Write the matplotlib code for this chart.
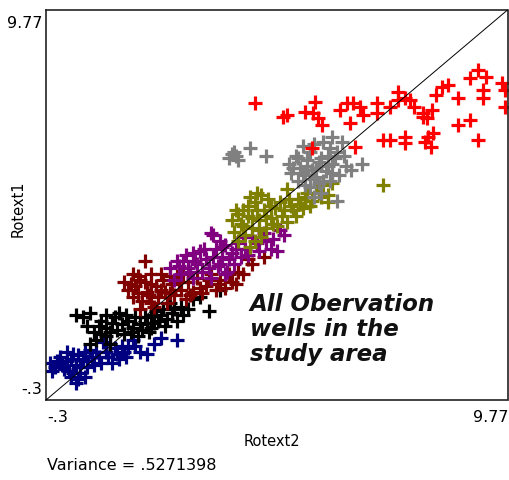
import matplotlib
matplotlib.use("Agg")
import matplotlib.pyplot as plt

lo, hi = -0.3, 9.77

navy = [(-0.22,0.65),(-0.17,0.45),(-0.1,0.55),(0.0,0.8),(0.05,0.6),(0.15,0.7),(0.2,0.45),(0.3,0.9),
        (0.35,0.6),(0.4,0.25),(0.45,0.4),(0.5,0.75),(0.6,0.55),(0.65,1.0),(0.75,0.6),(0.85,0.8),
        (0.95,1.2),(1.0,0.95),(1.1,1.15),(1.15,0.65),(1.25,0.9),(1.35,1.1),(1.45,0.8),(1.5,1.05),
        (1.6,1.25),(1.75,0.95),(1.9,0.9),(2.05,1.15),(2.55,1.25),(0.25,0.3),(0.55,0.3),(0.7,0.8),
        (0.1,0.5),(0.25,0.75),(0.4,0.85),(0.45,0.55),(0.55,0.95),(0.3,0.4),(0.8,0.95),(0.9,0.65),
        (1.05,0.8),(1.2,1.05),(1.3,0.75),(0.15,0.95),(-0.05,0.7),(0.6,0.7),(1.65,1.1),(2.2,1.3),
        (1.4,0.95),(0.35,0.15)]
black = [(0.35,1.9),(0.65,1.95),(1.0,1.9),(0.6,1.6),(0.75,1.45),(0.8,1.25),(0.65,1.15),(1.0,1.35),
         (1.15,1.7),(1.25,1.5),(1.4,1.4),(1.5,1.75),(1.6,1.55),(1.75,1.65),(1.85,1.85),(1.95,1.45),
         (2.05,1.7),(2.2,1.9),(2.3,1.6),(2.45,1.95),(2.55,1.75),(2.65,2.1),(2.8,2.05),(2.9,2.3),
         (3.05,2.35),(3.25,2.0),(3.5,2.55),(1.3,1.95),(1.0,1.55),(2.1,2.0),(1.7,1.35),(2.4,2.2),(0.9,1.75),
         (0.5,1.85),(0.85,1.6),(1.1,1.45),(1.2,1.85),(1.35,1.65),(1.45,1.9),(1.55,1.45),(1.65,1.85),
         (1.8,1.5),(1.9,1.7),(2.0,1.9),(2.15,1.75),(2.25,2.05),(2.35,1.8),(2.5,2.05),(2.7,1.9),
         (1.1,1.15),(0.9,1.4),(2.0,1.55)]
maroon = [(1.85,3.3),(1.7,2.9),(1.5,2.55),(1.4,2.75),(1.6,2.35),(1.65,2.65),(1.8,2.25),(1.85,2.75),
          (1.9,2.5),(2.0,2.95),(2.05,2.1),(2.1,2.65),(2.15,2.35),(2.25,2.8),(2.3,2.5),(2.35,2.2),
          (2.45,2.7),(2.5,2.4),(2.55,2.9),(2.65,2.55),(2.75,2.3),(2.8,2.75),(2.9,2.5),(3.0,2.85),
          (3.1,2.45),(3.2,2.65),(3.3,2.95),(3.4,2.55),(3.5,2.8),(3.6,2.6),(3.7,2.95),(3.85,2.7),
          (4.0,2.95),(4.1,3.35),(4.2,3.2),(4.45,3.4),(2.0,2.2),(1.75,2.05),
          (1.55,2.7),(1.7,2.45),(1.75,2.8),(1.95,2.4),(2.0,2.7),(2.2,2.55),(2.2,2.95),(2.4,2.45),
          (2.4,2.9),(2.6,2.75),(2.7,2.95),(2.85,2.4),(3.05,2.6),(3.25,2.8),(3.45,2.7),(3.75,2.75),
          (3.9,3.0),(1.6,2.95)]
purple = [(2.4,3.1),(2.5,2.8),(2.55,3.3),(2.65,2.95),(2.75,3.45),(2.8,3.1),(2.9,2.85),(2.95,3.3),
          (3.05,3.55),(3.1,3.0),(3.2,3.35),(3.3,2.85),(3.35,3.95),(3.4,3.6),(3.45,3.15),(3.55,3.4),
          (3.6,3.7),(3.65,3.0),(3.75,3.5),(3.8,3.2),(3.9,3.75),(3.95,3.4),(3.3,4.0),(3.55,3.65),
          (4.35,3.55),(4.5,3.8),(4.65,3.85),(4.75,3.55),(4.8,4.1),(4.9,3.95),(4.05,3.6),(4.2,3.9),
          (2.6,3.15),(2.7,3.3),(2.85,3.0),(2.9,3.5),(3.0,3.2),(3.15,3.6),(3.25,3.1),(3.35,3.4),
          (3.5,3.2),(3.5,3.8),(3.7,3.35),(3.85,3.6),(4.0,3.9),(4.1,3.45),(4.3,3.75),(4.6,3.6),
          (4.45,4.0),(3.6,2.95)]
olive = [(3.75,4.35),(3.8,4.05),(3.85,4.6),(3.9,3.8),(3.95,4.25),(4.0,4.6),(4.05,3.95),(4.1,4.45),
         (4.15,3.65),(4.2,4.15),(4.25,4.8),(4.3,5.05),(4.35,4.35),(4.4,3.9),(4.45,4.6),(4.5,4.15),
         (4.55,4.9),(4.6,4.4),(4.7,4.65),(4.75,4.2),(4.85,4.45),(4.95,5.15),(4.95,4.3),(5.05,4.7),
         (5.15,4.45),(5.2,4.9),(5.3,4.65),(5.4,5.05),(5.5,4.85),(5.6,5.2),(5.7,4.95),(5.85,5.0),
         (5.85,4.8),(5.95,5.3),(7.05,5.25),(4.4,5.0),
         (3.9,4.5),(4.0,4.2),(4.1,4.7),(4.2,4.4),(4.3,4.6),(4.35,4.1),(4.5,4.45),(4.6,4.7),
         (4.65,4.25),(4.8,4.8),(4.9,4.6),(5.0,4.9),(5.1,4.6),(5.25,4.75),(5.35,4.95),(5.45,4.7),
         (5.65,5.05),(5.75,5.25),(4.15,4.95),(4.25,3.8)]
gray = [(3.7,5.95),(3.8,6.1),(3.9,5.9),(3.85,6.0),(4.15,6.2),(4.5,6.0),
        (5.0,5.8),(5.05,5.55),(5.15,6.0),(5.2,5.35),(5.25,5.7),(5.3,6.25),(5.35,5.5),(5.4,5.9),
        (5.45,5.2),(5.5,5.65),(5.55,6.3),(5.6,5.45),(5.65,5.85),(5.7,5.05),(5.75,6.35),(5.8,5.6),
        (5.85,6.0),(5.9,5.35),(5.95,5.8),(6.05,6.1),(6.1,5.5),(6.15,6.35),(6.25,5.75),(6.6,5.8),
        (6.05,4.85),(5.55,4.95),(5.95,6.5),
        (5.1,5.7),(5.2,5.95),(5.3,5.55),(5.4,5.75),(5.45,6.1),(5.55,5.4),(5.6,5.7),(5.7,5.95),
        (5.75,5.35),(5.85,5.75),(5.9,6.2),(5.95,5.55),(6.0,5.95),(6.2,6.0),(5.35,5.25),(5.65,5.3),
        (6.35,5.65),(3.75,6.05)]
red = [(4.26,7.37),(4.88,7.01),(4.96,7.06),(5.36,7.14),(5.57,7.39),(5.53,7.11),(5.64,6.98),(5.73,6.80),
       (6.12,7.19),(6.27,7.37),(6.34,6.85),(6.40,7.37),(6.56,7.27),(6.62,7.06),(6.93,7.37),(6.93,7.11),
       (7.21,7.27),(7.37,7.45),(7.39,7.65),(7.54,7.51),(7.65,7.45),(7.72,7.27),(7.93,7.11),(8.02,6.98),
       (8.13,7.19),(8.20,7.58),(8.35,7.78),(8.48,7.83),(8.70,7.50),(8.68,6.80),(8.96,6.93),(8.96,8.01),
       (9.13,8.22),(9.29,8.04),(9.24,7.70),(9.24,7.50),(9.66,7.88),(9.72,7.70),(9.72,7.27),(7.06,6.41),
       (7.21,6.41),(7.54,6.49),(7.54,6.34),(7.98,6.36),(8.09,6.23),(8.15,6.59),(8.04,6.49),(9.13,6.41),
       (5.51,6.21),(6.45,6.23),(7.93,7.01)]

groups = [(navy, "#000080"), (black, "#000000"), (maroon, "#800000"), (purple, "#800080"),
          (olive, "#808000"), (gray, "#808080"), (red, "#ff0000")]

W, H = 509, 480
fig = plt.figure(figsize=(W/100, H/100), dpi=100)
ax = fig.add_axes([46/W, 1-400/H, 461.5/W, 390/H])
for pts, c in groups:
    xs = [p[0] for p in pts]
    ys = [p[1] for p in pts]
    ax.plot(xs, ys, linestyle="none", marker="+", color=c, ms=9.5, mew=2.3)
ax.plot([lo, hi], [lo, hi], color="black", lw=0.7, zorder=5)
ax.set_xlim(lo, hi)
ax.set_ylim(lo, hi)
ax.set_xticks([])
ax.set_yticks([])
for s in ax.spines.values():
    s.set_linewidth(1.2)
    s.set_color("#222222")

def fp(x, y):
    return (x / W, 1 - y / H)

fs = 11.5
fig.text(*fp(43, 23), "9.77", ha="right", va="center", fontsize=fs)
fig.text(*fp(42, 390), "-.3", ha="right", va="center", fontsize=fs)
fig.text(*fp(47, 417), "-.3", ha="left", va="center", fontsize=fs)
fig.text(*fp(508, 417), "9.77", ha="right", va="center", fontsize=fs)
fig.text(*fp(272, 442), "Rotext2", ha="center", va="center", fontsize=10.5)
fig.text(*fp(18, 209), "Rotext1", ha="center", va="center", fontsize=10.5, rotation=90)
fig.text(*fp(47, 466), "Variance = .5271398", ha="left", va="center", fontsize=fs)
ax.text(4.15, 2.46, "All Obervation\nwells in the\nstudy area", fontsize=16.5,
        fontweight="bold", fontstyle="italic", ha="left", va="top", linespacing=1.1,
        transform=ax.transData, color="#111111")

fig.savefig("out.png", dpi=100)
